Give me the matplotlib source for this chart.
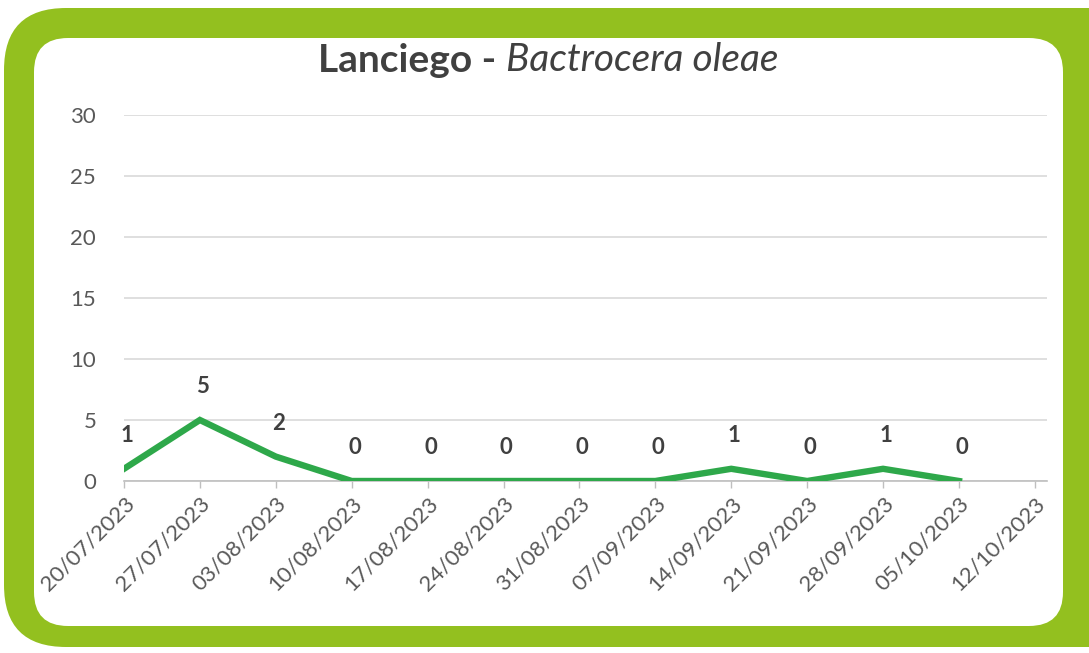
import matplotlib.pyplot as plt
from matplotlib.patches import FancyBboxPatch
from matplotlib.transforms import IdentityTransform

dates = ["20/07/2023", "27/07/2023", "03/08/2023", "10/08/2023", "17/08/2023",
         "24/08/2023", "31/08/2023", "07/09/2023", "14/09/2023", "21/09/2023",
         "28/09/2023", "05/10/2023", "12/10/2023"]
counts = [1, 5, 2, 0, 0, 0, 0, 0, 1, 0, 1, 0]   # no value for the last date

frame_green = "#93c01f"
line_green = "#2ea84a"
text_dark = "#404040"
text_grey = "#595959"

plt.rcParams['font.family'] = ['Lato', 'DejaVu Sans']

W, H = 1089, 653
fig = plt.figure(figsize=(W / 100, H / 100), dpi=100)

# rounded green frame + white inner panel, drawn in pixel coords
outer = FancyBboxPatch((4 + 62, 6 + 62), 1150 - 124, 639 - 124,
                       boxstyle="round,pad=62", transform=IdentityTransform(),
                       facecolor=frame_green, edgecolor="none", zorder=0)
inner = FancyBboxPatch((34 + 34, H - 626 + 34), 1029 - 68, 588 - 68,
                       boxstyle="round,pad=34", transform=IdentityTransform(),
                       facecolor="white", edgecolor="none", zorder=0)
fig.add_artist(outer)
fig.add_artist(inner)

left, right, y0, y30 = 124, 1047, 481, 115
ax = fig.add_axes([left / W, (H - y0) / H, (right - left) / W, (y0 - y30) / H])
ax.set_zorder(1)
ax.patch.set_alpha(0)

x = list(range(len(counts)))
ax.plot(x, counts, color=line_green, lw=4.6, solid_joinstyle="miter", zorder=3)
for xi, v in zip(x, counts):
    ax.annotate(str(v), (xi, v), xytext=(2, 24), textcoords="offset points",
                ha="center", va="center", fontsize=16, fontweight="bold",
                color=text_dark)

ax.set_xlim(0, 12.16)
ax.set_ylim(0, 30)
ax.set_yticks(range(0, 31, 5))
ax.set_xticks(range(len(dates)))
ax.set_xticklabels(dates, rotation=45, ha="right", rotation_mode="anchor",
                   fontsize=16, color=text_grey)
ax.tick_params(axis="y", length=0, pad=20, labelsize=16, labelcolor=text_grey)
ax.tick_params(axis="x", length=5, width=1, color="#bfbfbf", pad=4)
ax.grid(axis="y", color="#d9d9d9", lw=1.2)
ax.set_axisbelow(True)
for s in ["top", "right", "left"]:
    ax.spines[s].set_visible(False)
ax.spines["bottom"].set_color("#bfbfbf")
ax.spines["bottom"].set_linewidth(1.2)

# title: bold site name + italic species
t1 = fig.text(0, 0, "Lanciego - ", fontsize=28, fontweight="bold", color=text_dark)
t2 = fig.text(0, 0, "Bactrocera oleae", fontsize=28, style="italic", color=text_dark)
r = fig.canvas.get_renderer()
w1 = t1.get_window_extent(r).width
w2 = t2.get_window_extent(r).width
cx, ty = 548, H - 60
start = cx - (w1 + w2) / 2
t1.set_position((start / W, ty / H))
t2.set_position(((start + w1) / W, ty / H))
t1.set_va("center")
t2.set_va("center")

fig.savefig("out.png", dpi=100)
